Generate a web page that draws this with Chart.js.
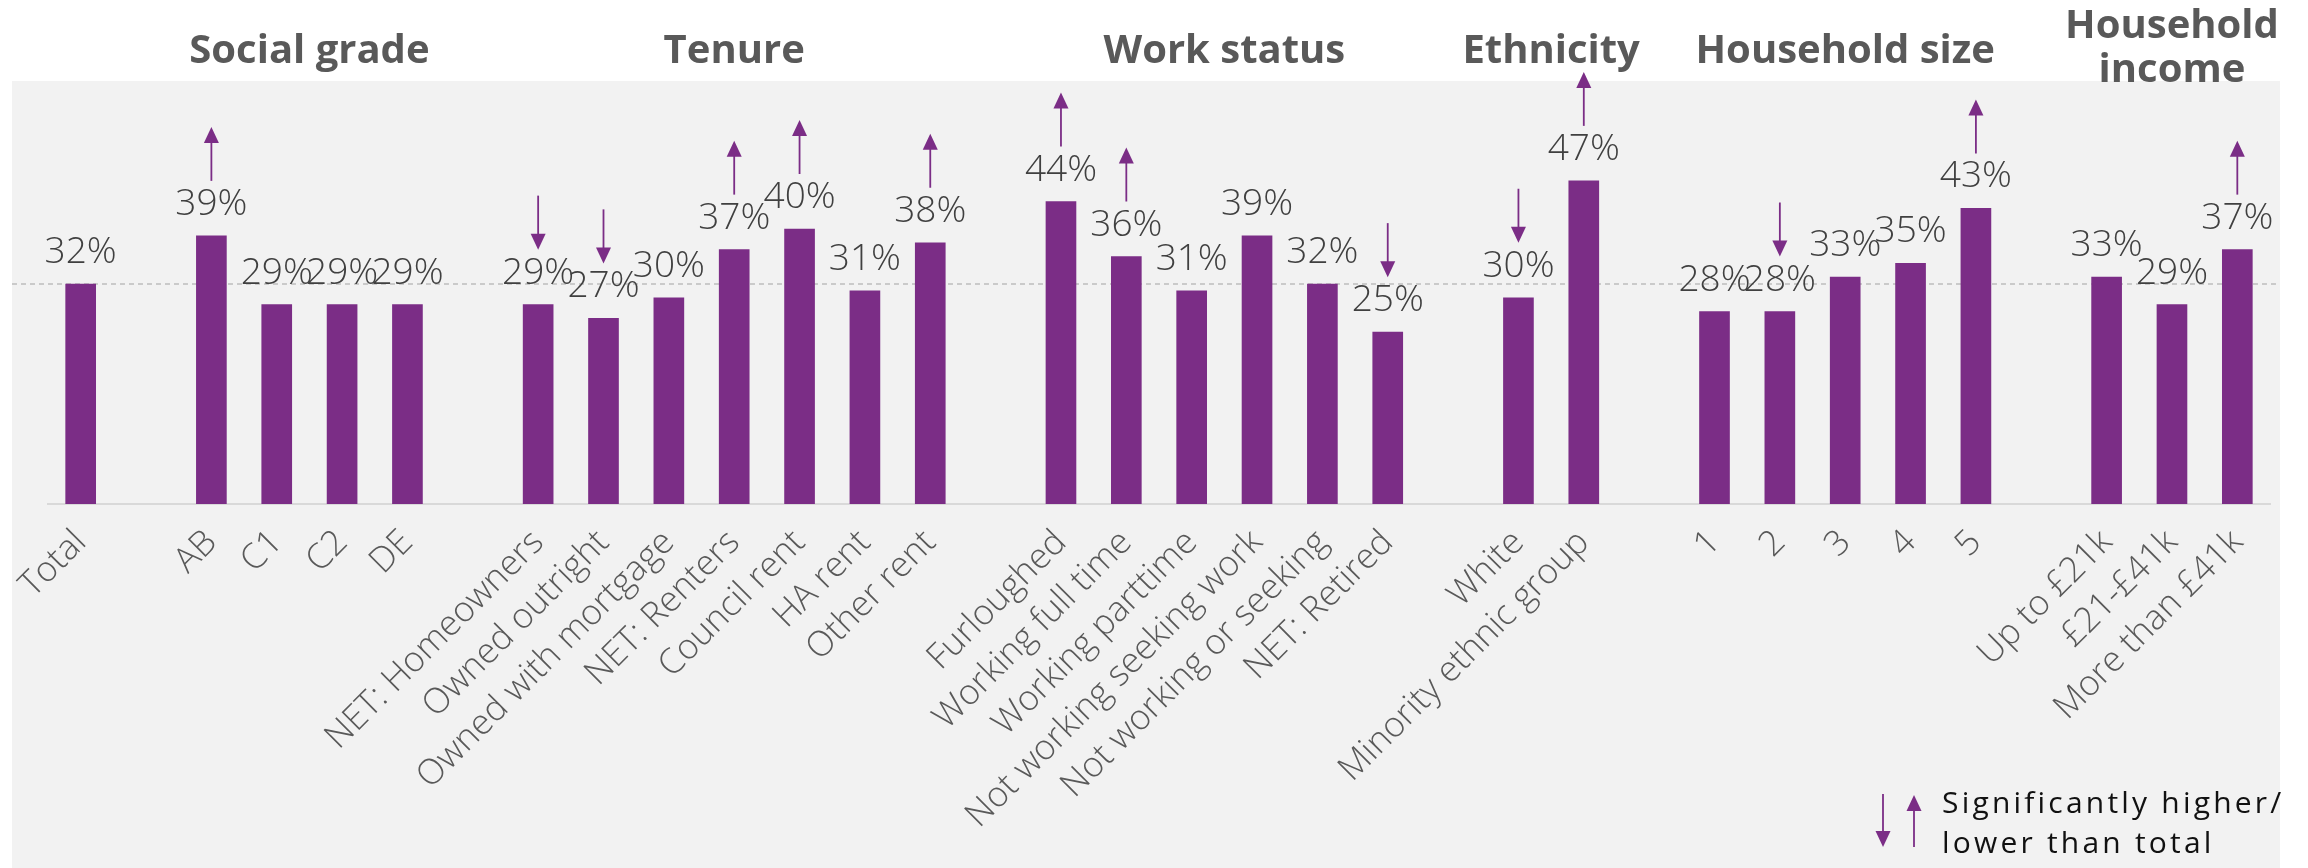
<!DOCTYPE html>
<html>
<head>
<meta charset="utf-8">
<script src="https://cdn.jsdelivr.net/npm/chart.js@4/dist/chart.umd.min.js"></script>
<style>
  html, body { margin: 0; padding: 0; background: #ffffff; }
  canvas { display: block; }
</style>
</head>
<body>
<canvas id="chart" width="2308" height="868"></canvas>
<script>
// Category labels; empty strings leave a gap slot between groups
const categories = [
  'Total', '',
  'AB', 'C1', 'C2', 'DE', '',
  'NET: Homeowners', 'Owned outright', 'Owned with mortgage', 'NET: Renters', 'Council rent', 'HA rent', 'Other rent', '',
  'Furloughed', 'Working full time', 'Working parttime', 'Not working seeking work', 'Not working or seeking', 'NET: Retired', '',
  'White', 'Minority ethnic group', '',
  '1', '2', '3', '4', '5', '',
  'Up to £21k', '£21-£41k', 'More than £41k'
];

// Share of each group (fractions)
const values = [
  0.32, null,
  0.39, 0.29, 0.29, 0.29, null,
  0.29, 0.27, 0.30, 0.37, 0.40, 0.31, 0.38, null,
  0.44, 0.36, 0.31, 0.39, 0.32, 0.25, null,
  0.30, 0.47, null,
  0.28, 0.28, 0.33, 0.35, 0.43, null,
  0.33, 0.29, 0.37
];

// Significance versus total: 'up' = higher, 'down' = lower
const significance = [
  '', '',
  'up', '', '', '', '',
  'down', 'down', '', 'up', 'up', '', 'up', '',
  'up', 'up', '', '', '', 'down', '',
  'down', 'up', '',
  '', 'down', '', '', 'up', '',
  '', '', 'up'
];

// Group headings and the category index span each one covers
const groupTitles = ['Social grade', 'Tenure', 'Work status', 'Ethnicity', 'Household size', ['Household', 'income']];
const groupSpans = [[2, 5], [7, 13], [15, 20], [22, 23], [25, 29], [31, 33]];

const legendLines = ['Significantly higher/', 'lower than total'];

const PURPLE = '#7B2D86';
const TITLE_GREY = '#595959';
const LABEL_GREY = '#404040';

function drawArrow(ctx, x, yTop, yBottom, dir) {
  const headH = 16, headW = 15;
  ctx.save();
  ctx.strokeStyle = PURPLE;
  ctx.fillStyle = PURPLE;
  ctx.lineWidth = 1.8;
  ctx.beginPath();
  if (dir === 'up') {
    ctx.moveTo(x, yBottom);
    ctx.lineTo(x, yTop + headH - 2);
    ctx.stroke();
    ctx.beginPath();
    ctx.moveTo(x, yTop);
    ctx.lineTo(x - headW / 2, yTop + headH);
    ctx.lineTo(x + headW / 2, yTop + headH);
  } else {
    ctx.moveTo(x, yTop);
    ctx.lineTo(x, yBottom - headH + 2);
    ctx.stroke();
    ctx.beginPath();
    ctx.moveTo(x, yBottom);
    ctx.lineTo(x - headW / 2, yBottom - headH);
    ctx.lineTo(x + headW / 2, yBottom - headH);
  }
  ctx.closePath();
  ctx.fill();
  ctx.restore();
}

const panelPlugin = {
  id: 'panel',
  beforeDraw(chart) {
    const ctx = chart.ctx;
    ctx.save();
    ctx.fillStyle = '#F2F2F2';
    ctx.fillRect(12, 81, 2268, 787);
    ctx.restore();
  },
  beforeDatasetsDraw(chart) {
    // dashed reference line at the Total level
    const ctx = chart.ctx;
    const y = chart.scales.y.getPixelForValue(values[0]);
    ctx.save();
    ctx.strokeStyle = '#BDBDBD';
    ctx.lineWidth = 1.5;
    ctx.setLineDash([5, 4]);
    ctx.beginPath();
    ctx.moveTo(12, y);
    ctx.lineTo(2280, y);
    ctx.stroke();
    ctx.restore();
  },
  afterDatasetsDraw(chart) {
    const ctx = chart.ctx;
    const meta = chart.getDatasetMeta(0);

    // value labels and significance arrows
    ctx.save();
    ctx.font = '300 37px "Open Sans"';
    ctx.fillStyle = LABEL_GREY;
    ctx.textAlign = 'center';
    ctx.textBaseline = 'alphabetic';
    values.forEach((v, i) => {
      if (v === null) return;
      const bar = meta.data[i];
      const baseline = bar.y - 21;
      ctx.fillText(Math.round(v * 100) + '%', bar.x, baseline);
      const sig = significance[i];
      if (sig) {
        const bottom = baseline - 34;
        drawArrow(ctx, bar.x, bottom - 54, bottom, sig);
      }
    });
    ctx.restore();

    // group headings
    ctx.save();
    ctx.font = 'bold 40px "Open Sans"';
    ctx.fillStyle = TITLE_GREY;
    ctx.textAlign = 'center';
    ctx.textBaseline = 'alphabetic';
    groupTitles.forEach((t, g) => {
      const [a, b] = groupSpans[g];
      const cx = (meta.data[a].x + meta.data[b].x) / 2;
      if (Array.isArray(t)) {
        ctx.fillText(t[0], cx, 38);
        ctx.fillText(t[1], cx, 82);
      } else {
        ctx.fillText(t, cx, 63);
      }
    });
    ctx.restore();

    // key
    drawArrow(ctx, 1883, 794, 847, 'down');
    drawArrow(ctx, 1914, 795, 847, 'up');
    ctx.save();
    ctx.font = '30px "Open Sans"';
    ctx.letterSpacing = '3.2px';
    ctx.fillStyle = '#111111';
    ctx.textAlign = 'left';
    ctx.textBaseline = 'alphabetic';
    ctx.fillText(legendLines[0], 1942, 813);
    ctx.fillText(legendLines[1], 1942, 853);
    ctx.restore();
  }
};

new Chart(document.getElementById('chart'), {
  type: 'bar',
  data: {
    labels: categories,
    datasets: [{
      data: values,
      backgroundColor: PURPLE,
      barThickness: 30
    }]
  },
  options: {
    responsive: false,
    animation: false,
    devicePixelRatio: 1,
    layout: { padding: { left: 48, right: 38, top: 91.5, bottom: 0 } },
    plugins: { legend: { display: false }, tooltip: { enabled: false } },
    scales: {
      x: {
        grid: { display: false, drawTicks: false },
        border: { display: true, color: '#D9D9D9', width: 2 },
        ticks: {
          autoSkip: false,
          minRotation: 45,
          maxRotation: 45,
          padding: 18,
          color: TITLE_GREY,
          font: { family: 'Open Sans', size: 35, weight: '300' }
        },
        afterFit(scale) { scale.height = 364; }
      },
      y: {
        display: false,
        min: 0,
        max: 0.6
      }
    }
  },
  plugins: [panelPlugin]
});
</script>
</body>
</html>
